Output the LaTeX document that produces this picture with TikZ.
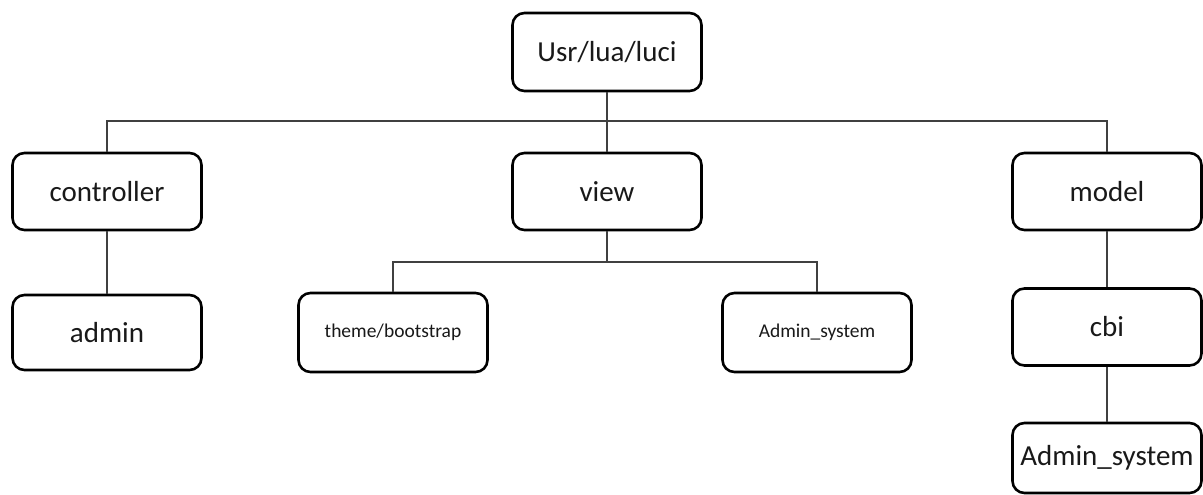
\documentclass[tikz,border=0pt]{standalone}
\usepackage{fontspec}
\setmainfont{Carlito}
\begin{document}
\begin{tikzpicture}[x=1pt,y=-1pt,
  boxnode/.style={draw=black,line width=2.6pt,rounded corners=12pt,fill=white,
    minimum width=189pt,minimum height=77pt,inner sep=0pt,align=center,
    font=\fontsize{29}{33}\selectfont,text=black!90},
  smallbox/.style={boxnode,minimum height=79pt,font=\fontsize{19.5}{23}\selectfont},
  conn/.style={draw=black!75,line width=1.4pt}]
\useasboundingbox (0,0) rectangle (1203,495);
\node[boxnode,minimum height=78pt] (root) at (607,52) {Usr/lua/luci};
\node[boxnode] (ctrl) at (107,191.5) {controller};
\node[boxnode] (view) at (607,191.5) {view};
\node[boxnode] (model) at (1107,191.5) {model};
\node[boxnode,minimum height=75pt] (admin) at (107,332.5) {admin};
\node[smallbox] (theme) at (393,332.5) {theme/bootstrap};
\node[smallbox] (asys) at (817,332.5) {Admin\_system};
\node[boxnode] (cbi) at (1107,327) {cbi};
\node[boxnode,minimum height=70pt] (asys2) at (1107,458) {Admin\_system};
\coordinate (bus) at (607,121);
\coordinate (vj) at (607,262);
\draw[conn] (ctrl.north) |- (bus) -| (model.north);
\draw[conn] (root.south) -- (view.north);
\draw[conn] (view.south) -- (vj);
\draw[conn] (theme.north) |- (vj) -| (asys.north);
\draw[conn] (ctrl.south) -- (admin.north);
\draw[conn] (model.south) -- (cbi.north);
\draw[conn] (cbi.south) -- (asys2.north);
\end{tikzpicture}
\end{document}
